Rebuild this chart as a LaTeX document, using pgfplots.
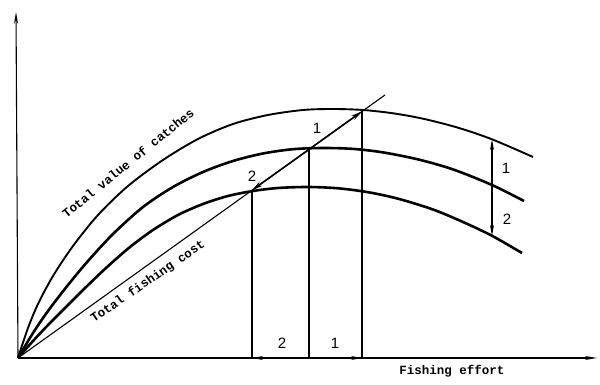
\documentclass[border=0pt]{standalone}
\usepackage{pgfplots}
\pgfplotsset{compat=1.18}
\usetikzlibrary{arrows.meta}
\usepackage{fontspec}
\newfontfamily\tw{Liberation Mono}
\newfontfamily\lsans{Liberation Sans}
\begin{document}
\begin{tikzpicture}
\useasboundingbox (0,0) rectangle (600pt,385pt);
\begin{axis}[
  at={(0,0)}, anchor=south west,
  width=600pt, height=385pt, scale only axis,
  xmin=-18, xmax=582, ymin=-27, ymax=358,
  hide axis, clip=false,
]
% axes
\addplot[line width=1.1pt, -{Stealth[length=12pt,width=4pt]}] coordinates {(0,0) (579,0)};
\addplot[line width=1.1pt, -{Stealth[length=12pt,width=4pt]}] coordinates {(0,0) (-2,346)};
% total value of catches (three levels)
\addplot[line width=1.9pt, smooth, tension=0.5] coordinates {
(0,0) (10,30) (20,54) (35,82) (55,112) (80,143) (110,172) (145,198) (180,219) (215,234) (250,243) (285,248) (315,249) (345,248) (375,244.7) (405,239.3) (440,230.3) (474,218.7) (515,201)};
\addplot[line width=2.6pt, smooth, tension=0.5] coordinates {
(0,0) (15,25) (30,47) (50,73) (70,97) (95,124) (125,151) (155,171) (185,186) (215,197) (245,204.5) (275,208.8) (305,210) (335,209.1) (365,205.6) (400,198.6) (435,188.6) (474,173) (506,157)};
\addplot[line width=2.6pt, smooth, tension=0.5] coordinates {
(0,0) (15,17) (32,35) (50,53) (65,68) (88,90) (112,111) (135,128) (160,143) (185,154) (210,162) (235,167) (260,170) (290,171) (320,169.7) (350,165.8) (380,159.3) (415,148.5) (445,136) (474,122.2) (504,105)};
% total fishing cost
\addplot[line width=1.1pt] coordinates {(0,0) (367,263)};
% verticals
\addplot[line width=1.1pt] coordinates {(234,0) (234,167.8)};
\addplot[line width=1.1pt] coordinates {(291,0) (291,208.6)};
\addplot[line width=1.1pt] coordinates {(344,0) (344,246.6)};
% arrows along cost line
\addplot[line width=1.6pt, -{Stealth[length=11pt,width=5pt]}] coordinates {(291,208.6) (344,246.6)};
\addplot[line width=1.6pt, -{Stealth[length=11pt,width=5pt]}] coordinates {(291,208.6) (234,167.8)};
% arrows along x axis
\addplot[line width=1.1pt, -{Stealth[length=11pt,width=4pt]}] coordinates {(291,0) (234,0)};
\addplot[line width=1.1pt, -{Stealth[length=11pt,width=4pt]}] coordinates {(291,0) (344,0)};
% vertical arrows at right
\addplot[line width=1.1pt, -{Stealth[length=11pt,width=4pt]}] coordinates {(474,173) (474,218.7)};
\addplot[line width=1.1pt, -{Stealth[length=11pt,width=4pt]}] coordinates {(474,173) (474,122.2)};
% labels
\node[rotate=39, font=\tw\bfseries\fontsize{12.5}{14}\selectfont] at (axis cs:110,195) {Total value of catches};
\node[rotate=34.5, font=\tw\bfseries\fontsize{12.5}{14}\selectfont] at (axis cs:130,76) {Total fishing cost};
\node[font=\tw\bfseries\fontsize{12.5}{14}\selectfont] at (axis cs:434,-13) {Fishing effort};
\node[font=\lsans\fontsize{15}{17}\selectfont] at (axis cs:264,15) {2};
\node[font=\lsans\fontsize{15}{17}\selectfont] at (axis cs:317,15) {1};
\node[font=\lsans\fontsize{15}{17}\selectfont] at (axis cs:299,230) {1};
\node[font=\lsans\fontsize{15}{17}\selectfont] at (axis cs:234,182) {2};
\node[font=\lsans\fontsize{15}{17}\selectfont] at (axis cs:488,190) {1};
\node[font=\lsans\fontsize{15}{17}\selectfont] at (axis cs:489,139) {2};
\end{axis}
\end{tikzpicture}
\end{document}
